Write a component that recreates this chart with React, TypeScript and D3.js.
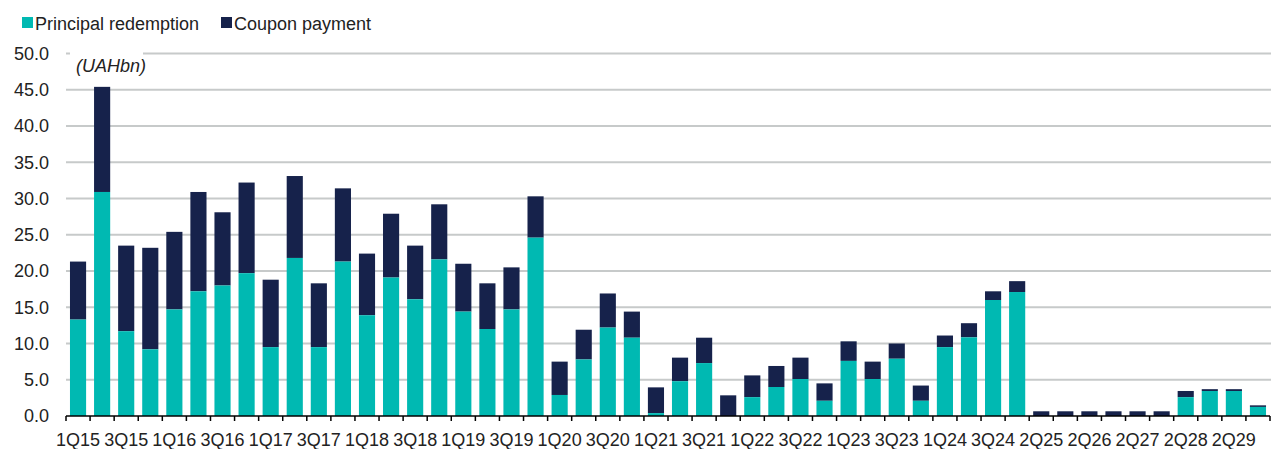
import React, { useEffect, useRef } from 'react';
import * as d3 from 'd3';

const categories = [
  '1Q15', '2Q15', '3Q15', '4Q15', '1Q16', '2Q16', '3Q16', '4Q16',
  '1Q17', '2Q17', '3Q17', '4Q17', '1Q18', '2Q18', '3Q18', '4Q18',
  '1Q19', '2Q19', '3Q19', '4Q19', '1Q20', '2Q20', '3Q20', '4Q20',
  '1Q21', '2Q21', '3Q21', '4Q21', '1Q22', '2Q22', '3Q22', '4Q22',
  '1Q23', '2Q23', '3Q23', '4Q23', '1Q24', '2Q24', '3Q24', '4Q24',
  '2Q25', '4Q25', '2Q26', '4Q26', '2Q27', '4Q27', '2Q28', '4Q28', '2Q29', '4Q29',
];

const principal = [
  13.3, 30.9, 11.7, 9.2, 14.7, 17.2, 18.0, 19.7,
  9.5, 21.8, 9.5, 21.3, 13.9, 19.1, 16.1, 21.6,
  14.4, 12.0, 14.7, 24.6, 2.9, 7.8, 12.2, 10.8,
  0.4, 4.8, 7.3, 0, 2.6, 4.0, 5.1, 2.1,
  7.6, 5.1, 7.9, 2.1, 9.5, 10.85, 16.0, 17.1,
  0, 0, 0, 0, 0, 0, 2.6, 3.45, 3.45, 1.25,
];

const coupon = [
  8.0, 14.5, 11.8, 14.0, 10.7, 13.7, 10.1, 12.5,
  9.3, 11.3, 8.8, 10.1, 8.5, 8.8, 7.4, 7.6,
  6.6, 6.3, 5.8, 5.7, 4.6, 4.1, 4.7, 3.6,
  3.55, 3.25, 3.5, 2.85, 3.0, 2.9, 2.95, 2.4,
  2.7, 2.4, 2.1, 2.1, 1.6, 1.95, 1.2, 1.5,
  0.65, 0.65, 0.65, 0.65, 0.65, 0.65, 0.85, 0.25, 0.25, 0.22,
];

const yTicks = [0, 5, 10, 15, 20, 25, 30, 35, 40, 45, 50];

const TEAL = '#00b9b2';
const NAVY = '#16224b';
const FONT = '"Liberation Sans", Arial, sans-serif';

const App = () => {
  const svgRef = useRef(null);

  useEffect(() => {
    const width = 1271;
    const height = 449;
    const left = 66;
    const right = 1270;
    const bottom = 416;
    const top = 53.5;

    const svg = d3.select(svgRef.current);
    svg.selectAll('*').remove();
    svg.attr('width', width).attr('height', height);

    const x = d3.scaleBand()
      .domain(categories)
      .range([left, right])
      .paddingInner(0.33)
      .paddingOuter(0.165);

    const y = d3.scaleLinear().domain([0, 50]).range([bottom, top]);

    // gridlines
    svg.append('g')
      .selectAll('line')
      .data(yTicks.filter(d => d > 0))
      .join('line')
      .attr('x1', left)
      .attr('x2', width)
      .attr('y1', d => y(d))
      .attr('y2', d => y(d))
      .attr('stroke', '#c7caca')
      .attr('stroke-width', 1.8);

    // y labels
    svg.append('g')
      .selectAll('text')
      .data(yTicks)
      .join('text')
      .attr('x', 49)
      .attr('y', d => y(d))
      .attr('dy', '0.36em')
      .attr('text-anchor', 'end')
      .style('font-family', FONT)
      .style('font-size', '18px')
      .style('fill', '#222')
      .text(d => d.toFixed(1));

    const rows = categories.map((c, i) => ({ c, p: principal[i], cp: coupon[i] }));

    svg.append('g')
      .selectAll('rect')
      .data(rows)
      .join('rect')
      .attr('x', d => x(d.c))
      .attr('width', x.bandwidth())
      .attr('y', d => y(d.p + d.cp))
      .attr('height', d => y(d.p) - y(d.p + d.cp))
      .attr('fill', NAVY);

    svg.append('g')
      .selectAll('rect')
      .data(rows)
      .join('rect')
      .attr('x', d => x(d.c))
      .attr('width', x.bandwidth())
      .attr('y', d => y(d.p))
      .attr('height', d => y(0) - y(d.p))
      .attr('fill', TEAL);

    // x axis
    const step = x.step();
    const tickPos = d3.range(categories.length + 1).map(i => left + i * step);
    svg.append('line')
      .attr('x1', left)
      .attr('x2', right)
      .attr('y1', bottom)
      .attr('y2', bottom)
      .attr('stroke', '#000')
      .attr('stroke-width', 1.5);
    svg.append('g')
      .selectAll('line')
      .data(tickPos)
      .join('line')
      .attr('x1', d => d)
      .attr('x2', d => d)
      .attr('y1', bottom)
      .attr('y2', bottom + 5)
      .attr('stroke', '#000')
      .attr('stroke-width', 1.5);

    svg.append('g')
      .selectAll('text')
      .data(categories.filter((_, i) => i % 2 === 0))
      .join('text')
      .attr('x', d => x(d) + x.bandwidth() / 2)
      .attr('y', 446)
      .attr('text-anchor', 'middle')
      .style('font-family', FONT)
      .style('font-size', '18px')
      .style('fill', '#222')
      .text(d => d);

    // unit label with white box over the top gridline
    svg.append('rect')
      .attr('x', 70)
      .attr('y', 52)
      .attr('width', 73)
      .attr('height', 24)
      .attr('fill', '#fff');
    svg.append('text')
      .attr('x', 76)
      .attr('y', 72)
      .style('font-family', FONT)
      .style('font-size', '18px')
      .style('font-style', 'italic')
      .style('fill', '#222')
      .text('(UAHbn)');

    // legend
    const legend = [
      { name: 'Principal redemption', color: TEAL, x: 22 },
      { name: 'Coupon payment', color: NAVY, x: 221 },
    ];
    const lg = svg.append('g');
    legend.forEach(l => {
      lg.append('rect')
        .attr('x', l.x)
        .attr('y', 17)
        .attr('width', 11)
        .attr('height', 11)
        .attr('fill', l.color);
      lg.append('text')
        .attr('x', l.x + 13)
        .attr('y', 30)
        .style('font-family', FONT)
        .style('font-size', '18px')
        .style('fill', '#222')
        .text(l.name);
    });
  }, []);

  return (
    <svg ref={svgRef} style={{ position: 'absolute', left: 0, top: 0, background: '#fff' }}></svg>
  );
};

export default App;
